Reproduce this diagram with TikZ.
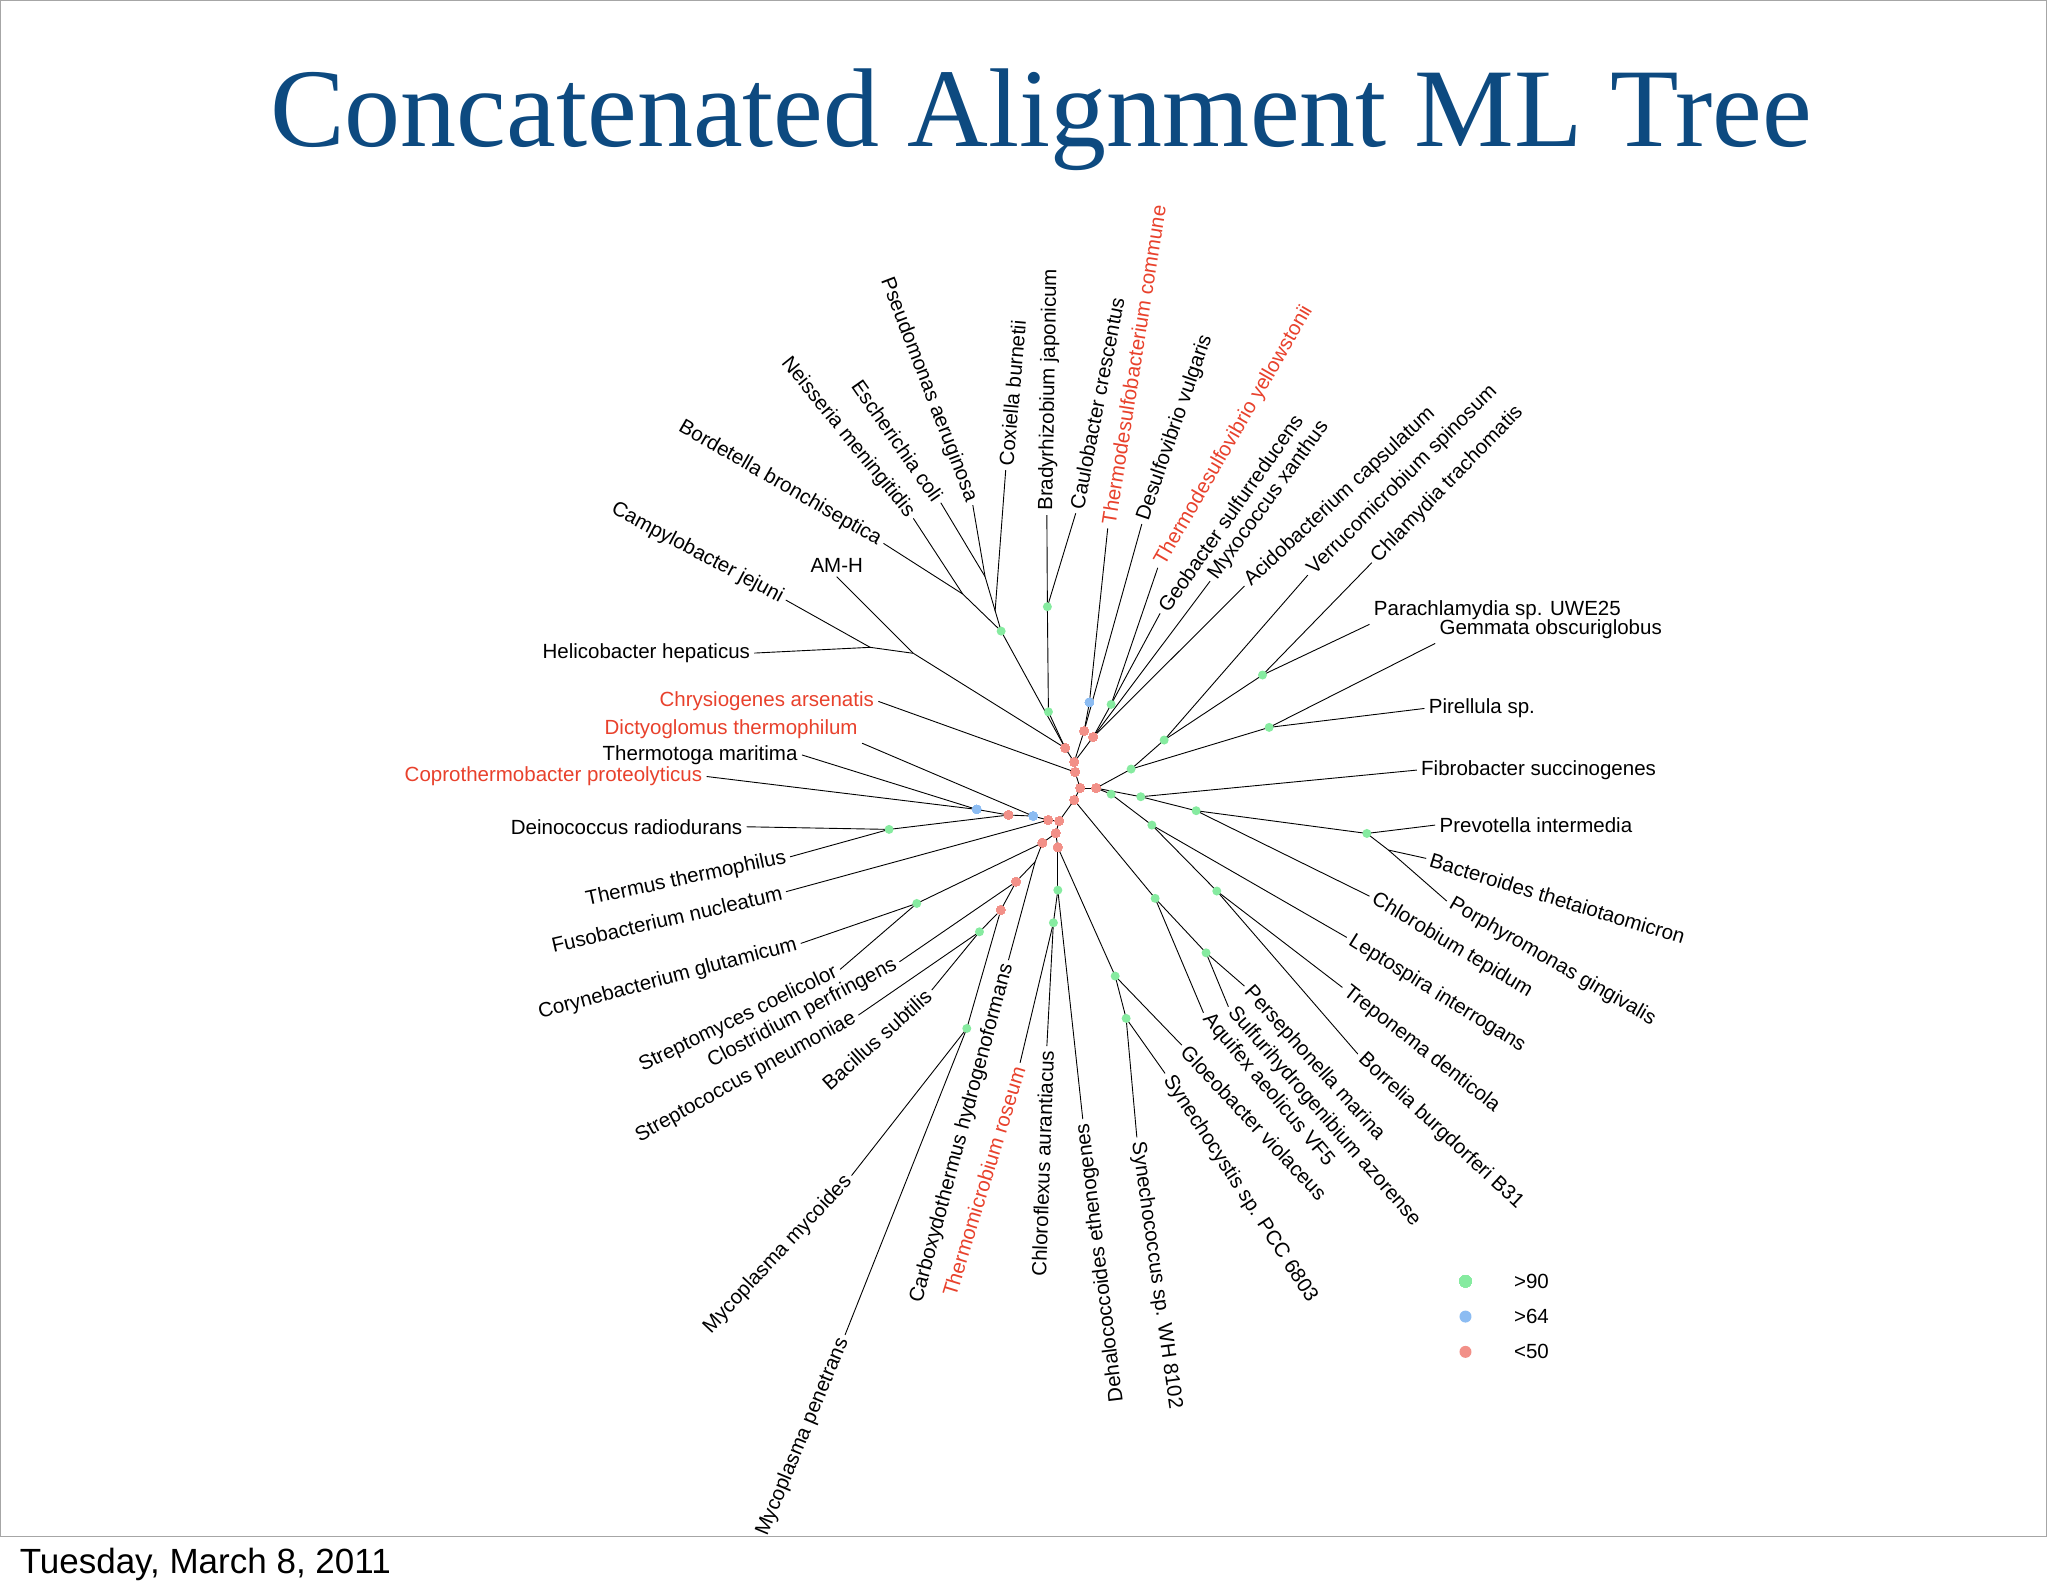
\documentclass[tikz,border=0pt]{standalone}
\usepackage{fontspec}
\setmainfont{Liberation Sans}
\newfontfamily\titlefont{Liberation Serif}
\definecolor{tblue}{HTML}{0D4A80}
\definecolor{tred}{HTML}{E8412C}
\definecolor{dg}{HTML}{86EBA0}
\definecolor{db}{HTML}{8CBCF2}
\definecolor{dr}{HTML}{F29088}
\newcommand\rd[1]{\textcolor{tred}{#1}}
\tikzset{br/.style={line width=0.9pt,black},
 lab/.style={font=\fontsize{20.5}{22}\selectfont,inner sep=4pt},
 dot/.style={circle,inner sep=0pt,minimum size=9pt}}
\newcommand\lr[6]{\coordinate (#4) at #5;
 \draw[br] (#3) -- (#4) node[lab,pos=1,rotate=#2,anchor=#1]{#6};}
\newcommand\lh[5]{\coordinate (#3) at #4;
 \draw[br] (#2) -- (#3) node[lab,anchor=#1]{#5};}
\newcommand\dt[2]{\node[dot,fill=#1] at (#2) {};}
\begin{document}
\begin{tikzpicture}[x=1.306pt,y=-1.306pt]
\useasboundingbox (0,0) rectangle (1568,1219.8);
\draw[line width=1pt,gray!70] (0.5,0.5) rectangle (1567,1176);
\node[font=\titlefont\fontsize{112}{112}\selectfont,text=tblue,anchor=base] (title) at (797,112) {Concatenated Alignment ML Tree};
\node[font=\fontsize{35}{36}\selectfont,anchor=base west,inner sep=0pt] (date) at (15,1205) {Tuesday, March 8, 2011};
% internal nodes
\coordinate (A) at (815.5,572.7); \coordinate (B) at (822.4,583.5);
\coordinate (C) at (823.1,591.1); \coordinate (D) at (827,603.4);
\coordinate (E) at (839.2,603.4); \coordinate (F) at (822.4,612.6);
\coordinate (G) at (810.9,628.6); \coordinate (H) at (802.5,627.9);
\coordinate (I) at (791,624.8); \coordinate (J) at (772.1,624);
\coordinate (K) at (747.8,619.7); \coordinate (L) at (808.3,638);
\coordinate (M) at (798.1,645.3); \coordinate (N) at (809.9,648.8);
\coordinate (P) at (830,559.7); \coordinate (Q) at (836.9,564.3);
\coordinate (Pb) at (834.1,537.8); \coordinate (Pg) at (850.7,539.3);
\coordinate (g1) at (802.7,545); \coordinate (g2) at (801.9,464.5);
\coordinate (g3) at (766.5,483.2); \coordinate (nBN) at (737.1,454.8);
\coordinate (nPC) at (761.9,467.6); \coordinate (nEP) at (754.2,441.5);
\coordinate (XAM) at (699.3,500.2); \coordinate (CH) at (666.2,495.6);
\coordinate (R1) at (891.3,566.6); \coordinate (R2) at (866,588.8);
\coordinate (R3) at (966.6,516.8); \coordinate (R4) at (971.7,556.9);
\coordinate (S1) at (850.7,608); \coordinate (S2) at (873.4,610);
\coordinate (S3) at (915.8,620.7); \coordinate (S4) at (881.9,631.7);
\coordinate (S5) at (931.6,682.2); \coordinate (S6) at (884.4,687.8);
\coordinate (S7) at (923.4,729.5); \coordinate (PV) at (1046.5,638.1);
\coordinate (BJ) at (1063,650.8);
\coordinate (Y1) at (853.8,747.3); \coordinate (Y2) at (862.2,779.7);
\coordinate (T1) at (809.9,681.5); \coordinate (T2) at (806.5,706.5);
\coordinate (T3) at (777.9,675.1); \coordinate (T4) at (766.2,696.8);
\coordinate (T5) at (701.9,691.7); \coordinate (T6) at (749.9,713.4);
\coordinate (T7) at (680.7,635); \coordinate (X) at (792.5,659.8);
\coordinate (MY) at (740.2,787.4);
% internal edges
\foreach \a/\b in {B/A,A/XAM,A/g3,A/g1,g1/g2,g3/nBN,g3/nPC,nPC/nEP,XAM/CH,
 B/P,B/Q,P/Pb,Q/Pg,C/B,D/C,D/E,D/F,F/G,F/S6,G/H,G/L,H/I,I/J,J/K,J/T7,
 L/M,L/N,M/X,M/T5,X/T3,T3/T4,T4/T6,T4/MY,N/T1,N/Y1,T1/T2,Y1/Y2,
 E/R2,R2/R1,R1/R3,R2/R4,E/S1,E/S2,S2/S3,S3/PV,PV/BJ,S1/S4,S4/S5,S6/S7}
 \draw[br] (\a) -- (\b);
% leaves
\lr{east}{-30}{nBN}{l1}{(676.4,416)}{Bordetella bronchiseptica}
\lr{east}{-51}{nBN}{l2}{(699.3,396.9)}{Neisseria meningitidis}
\lr{east}{-55}{nEP}{l3}{(720.3,384.9)}{Escherichia coli}
\lr{east}{-69}{nEP}{l4}{(744.8,386.7)}{Pseudomonas aeruginosa}
\lr{west}{85}{nPC}{l5}{(770,359.9)}{Coxiella burnetii}
\lr{west}{89}{g2}{l6}{(801.5,394.3)}{Bradyrhizobium japonicum}
\lr{west}{79}{g2}{l7}{(823.6,393)}{Caulobacter crescentus}
\lr{west}{81}{Pb}{l8}{(848.1,404.5)}{\rd{Thermodesulfobacterium commune}}
\lr{west}{71}{P}{l9}{(874.2,401.2)}{Desulfovibrio vulgaris}
\lr{west}{60}{Pg}{l10}{(886.4,434.7)}{\rd{Thermodesulfovibrio yellowstonii}}
\lr{west}{55}{Pg}{l11}{(888.2,469.6)}{Geobacter sulfurreducens}
\lr{west}{54}{Q}{l12}{(926.5,444.9)}{Myxococcus xanthus}
\lr{west}{43}{Q}{l13}{(952.8,448.7)}{Acidobacterium capsulatum}
\lr{west}{45}{R1}{l14}{(1001.3,440.3)}{Verrucomicrobium spinosum}
\lr{west}{46}{R3}{l15}{(1050.3,430.8)}{Chlamydia trachomatis}
\lh{south west}{R3}{l16}{(1048.5,478)}{Parachlamydia sp. UWE25}
\lh{south west}{R4}{l17}{(1098.8,492.6)}{Gemmata obscuriglobus}
\lh{west}{R4}{l18}{(1090.6,542.4)}{Pirellula sp.}
\lh{west}{S2}{l19}{(1084.7,589.6)}{Fibrobacter succinogenes}
\lh{west}{PV}{l20}{(1098.8,631.7)}{Prevotella intermedia}
\lr{west}{-17}{BJ}{l21}{(1091.9,657.2)}{Bacteroides thetaiotaomicron}
\lr{west}{-30}{BJ}{l22}{(1107.7,689.9)}{Porphyromonas gingivalis}
\lr{west}{-31}{S3}{l23}{(1048.5,686.1)}{Chlorobium tepidum}
\lr{west}{-32}{S4}{l24}{(1031.1,717.7)}{Leptospira interrogans}
\lr{west}{-38}{S5}{l25}{(1027.8,756)}{Treponema denticola}
\lr{west}{-43}{S5}{l26}{(1039.6,807)}{Borrelia burgdorferi B31}
\lr{west}{-48}{S7}{l27}{(952.8,755)}{Persephonella marina}
\lr{west}{-49}{S7}{l28}{(940.5,770.8)}{Sulfurihydrogenibium azorense}
\lr{west}{-50}{S6}{l29}{(921.4,775.4)}{Aquifex aeolicus VF5}
\lr{west}{-47}{Y1}{l30}{(904.8,800.2)}{Gloeobacter violaceus}
\lr{west}{-57}{Y2}{l31}{(892,821.8)}{Synechocystis sp. PCC 6803}
\lr{west}{-82}{Y2}{l32}{(870.4,870.8)}{Synechococcus sp. WH 8102}
\lr{east}{97}{T1}{l33}{(829,856.8)}{Dehalococcoides ethenogenes}
\lr{east}{88}{T2}{l34}{(801.5,800.9)}{Chloroflexus aurantiacus}
\lr{east}{73}{T2}{l35}{(781,813.7)}{\rd{Thermomicrobium roseum}}
\lr{east}{75}{X}{l36}{(772.1,735.1)}{Carboxydothermus hydrogenoformans}
\lr{east}{67.5}{MY}{l37}{(647,1022)}{Mycoplasma penetrans}
\lr{east}{47}{MY}{l38}{(652,900)}{Mycoplasma mycoides}
\lr{east}{42}{T6}{l39}{(713.4,758)}{Bacillus subtilis}
\lr{east}{29}{T6}{l40}{(657.2,777.2)}{Streptococcus pneumoniae}
\lr{east}{28}{T3}{l41}{(688.6,736.4)}{Clostridium perfringens}
\lr{east}{26}{T5}{l42}{(643.2,742.2)}{Streptomyces coelicolor}
\lr{east}{15}{T5}{l43}{(613.1,722.3)}{Corynebacterium glutamicum}
\lr{east}{13}{H}{l44}{(601.8,682.7)}{Fusobacterium nucleatum}
\lr{east}{12}{T7}{l45}{(604.9,656)}{Thermus thermophilus}
\lh{east}{T7}{l46}{(571.7,633)}{Deinococcus radiodurans}
\lh{east}{K}{l47}{(541,594.5)}{\rd{Coprothermobacter proteolyticus}}
\lh{east}{K}{l48}{(614,578)}{Thermotoga maritima}
\lh{south east}{I}{l49}{(660,569)}{\rd{Dictyoglomus thermophilum}}
\lh{east}{C}{l50}{(672.5,537)}{\rd{Chrysiogenes arsenatis}}
\lh{east}{CH}{l51}{(577.6,500)}{Helicobacter hepaticus}
\lr{east}{-28}{CH}{l52}{(601.6,459.4)}{Campylobacter jejuni}
\lh{south}{XAM}{l53}{(640.6,441.5)}{AM-H}
% dots
\foreach \p in {g1,g2,g3,Pg,R1,R2,R3,R4,S1,S2,S3,S4,S5,S6,S7,PV,Y1,Y2,T1,T2,T5,T6,T7,MY} \dt{dg}{\p}
\foreach \p in {Pb,I,K} \dt{db}{\p}
\foreach \p in {A,B,C,D,E,F,G,H,J,L,M,N,P,Q,T3,T4} \dt{dr}{\p}
% legend
\node[dot,fill=dg,minimum size=12pt] (k1) at (1122,981) {};
\node[dot,fill=db,minimum size=12pt] (k2) at (1122,1008) {};
\node[dot,fill=dr,minimum size=12pt] (k3) at (1122,1035) {};
\node[lab,anchor=west] (k1t) at (1156,981) {>90};
\node[lab,anchor=west] (k2t) at (1156,1008) {>64};
\node[lab,anchor=west] (k3t) at (1156,1035) {<50};
\end{tikzpicture}
\end{document}
